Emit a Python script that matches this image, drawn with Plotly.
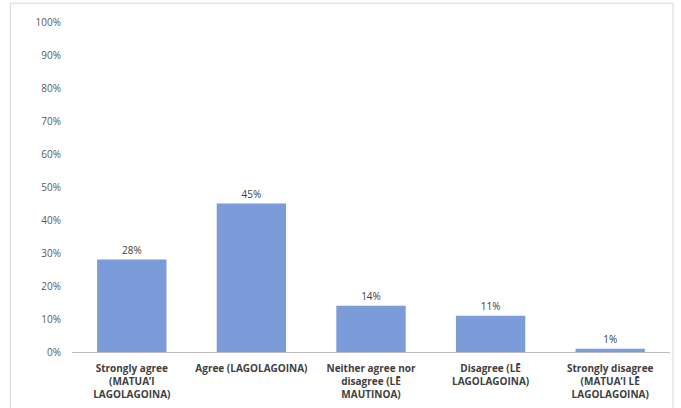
import plotly.graph_objects as go

categories = [
    "Strongly agree<br>(MATUA’I<br>LAGOLAGOINA)",
    "Agree (LAGOLAGOINA)",
    "Neither agree nor<br>disagree (LĒ<br>MAUTINOA)",
    "Disagree (LĒ<br>LAGOLAGOINA)",
    "Strongly disagree<br>(MATUA’I LĒ<br>LAGOLAGOINA)",
]
percentages = [28, 45, 14, 11, 1]
y_ticks = list(range(0, 101, 10))
y_tick_labels = [f"{v}%" for v in y_ticks]

fig = go.Figure(go.Bar(
    x=categories,
    y=percentages,
    marker=dict(color="#7b9cd8", line=dict(width=0)),
    text=[f"{v}%" for v in percentages],
    textposition="outside",
    textfont=dict(size=10, color="#404040"),
    cliponaxis=False,
))

fig.update_layout(
    width=681,
    height=408,
    margin=dict(l=72, r=11, t=22, b=56),
    paper_bgcolor="white",
    plot_bgcolor="white",
    font=dict(family="Open Sans, Liberation Sans, sans-serif", size=10, color="#595959"),
    bargap=0.42,
    showlegend=False,
    xaxis=dict(
        showline=True,
        linecolor="#bfbfbf",
        linewidth=1,
        ticks="",
        ticklabelstandoff=7,
        tickfont=dict(size=10, color="#404040", weight="bold"),
        showgrid=False,
        automargin=False,
    ),
    yaxis=dict(
        range=[0, 100],
        tickvals=y_ticks,
        ticktext=y_tick_labels,
        showgrid=False,
        zeroline=False,
        showline=False,
        ticks="",
        ticklabelstandoff=10,
        tickfont=dict(size=10, color="#595959"),
        automargin=False,
    ),
    shapes=[dict(
        type="rect", xref="paper", yref="paper",
        x0=-0.103, x1=1.005, y0=-0.3, y1=1.057,
        line=dict(color="#d9d9d9", width=1),
        layer="below",
    )],
)

# drop the browser's default body margin so the figure sits at the page corner
fig.write_html(
    "out.html",
    config={"displayModeBar": False},
    post_script="document.body.style.margin='0';",
)
